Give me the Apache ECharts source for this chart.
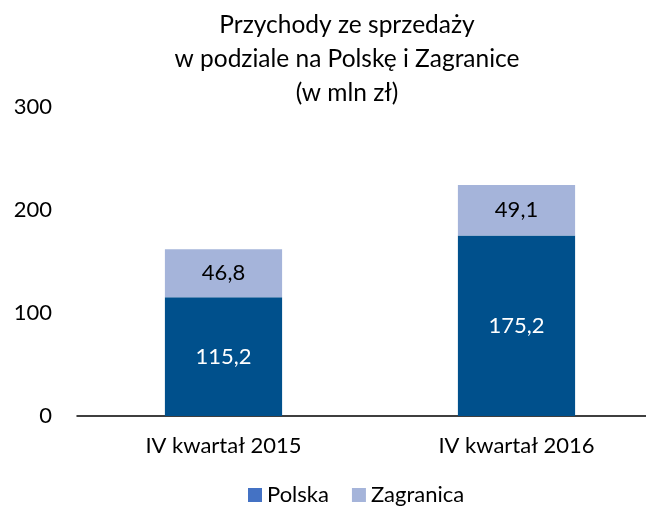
<!DOCTYPE html>
<html>
<head>
<meta charset="utf-8">
<script src="https://cdn.jsdelivr.net/npm/echarts@6/dist/echarts.min.js"></script>
<style>
  html, body { margin: 0; padding: 0; background: #fff; }
  #chart { width: 646px; height: 512px; }
</style>
</head>
<body>
<div id="chart"></div>
<script>
  var categories = ['IV kwartał 2015', 'IV kwartał 2016']
  var polska = [115.2, 175.2]
  var zagranica = [46.8, 49.1]
  var yTicks = [0, 100, 200, 300]

  var chart = echarts.init(document.getElementById('chart'))
  var font = 'Lato, "Open Sans", sans-serif'

  function fmt(p) {
    return String(p.value).replace('.', ',')
  }

  var option = {
    textStyle: { fontFamily: font },
    title: {
      text: 'Przychody ze sprzedaży\nw podziale na Polskę i Zagranice\n(w mln zł)',
      left: 342,
      textAlign: 'center',
      top: 3,
      textStyle: { fontSize: 24.5, fontWeight: 'normal', color: '#000', lineHeight: 34, fontFamily: font }
    },
    legend: {
      bottom: 1,
      left: 243,
      itemWidth: 14,
      itemHeight: 14,
      itemGap: 23,
      selectedMode: false,
      textStyle: { fontSize: 22, color: '#000', fontFamily: font },
      data: [
        { name: 'Polska', icon: 'rect', itemStyle: { color: '#4472C4' } },
        { name: 'Zagranica', icon: 'rect', itemStyle: { color: '#A5B4DA' } }
      ]
    },
    grid: {
      left: 77,
      width: 586,
      top: 107,
      bottom: 96,
      outerBoundsMode: 'none'
    },
    xAxis: {
      type: 'category',
      data: categories,
      axisLine: { lineStyle: { color: '#000', width: 1.5 } },
      axisTick: { show: false },
      axisLabel: { fontSize: 22, color: '#000', margin: 19, fontFamily: font }
    },
    yAxis: {
      type: 'value',
      min: yTicks[0],
      max: yTicks[yTicks.length - 1],
      interval: 100,
      axisLine: { show: false },
      axisTick: { show: false },
      splitLine: { show: false },
      axisLabel: { fontSize: 22, color: '#000', margin: 25, fontFamily: font }
    },
    series: [
      {
        name: 'Polska',
        type: 'bar',
        stack: 'total',
        barWidth: '40%',
        data: polska,
        itemStyle: { color: '#00508C' },
        label: { show: true, position: 'inside', color: '#fff', fontSize: 22, formatter: fmt, fontFamily: font }
      },
      {
        name: 'Zagranica',
        type: 'bar',
        stack: 'total',
        barWidth: '40%',
        data: zagranica,
        itemStyle: { color: '#A5B4DA' },
        label: { show: true, position: 'inside', color: '#000', fontSize: 22, formatter: fmt, fontFamily: font }
      }
    ]
  }

  chart.setOption(option)
</script>
</body>
</html>
